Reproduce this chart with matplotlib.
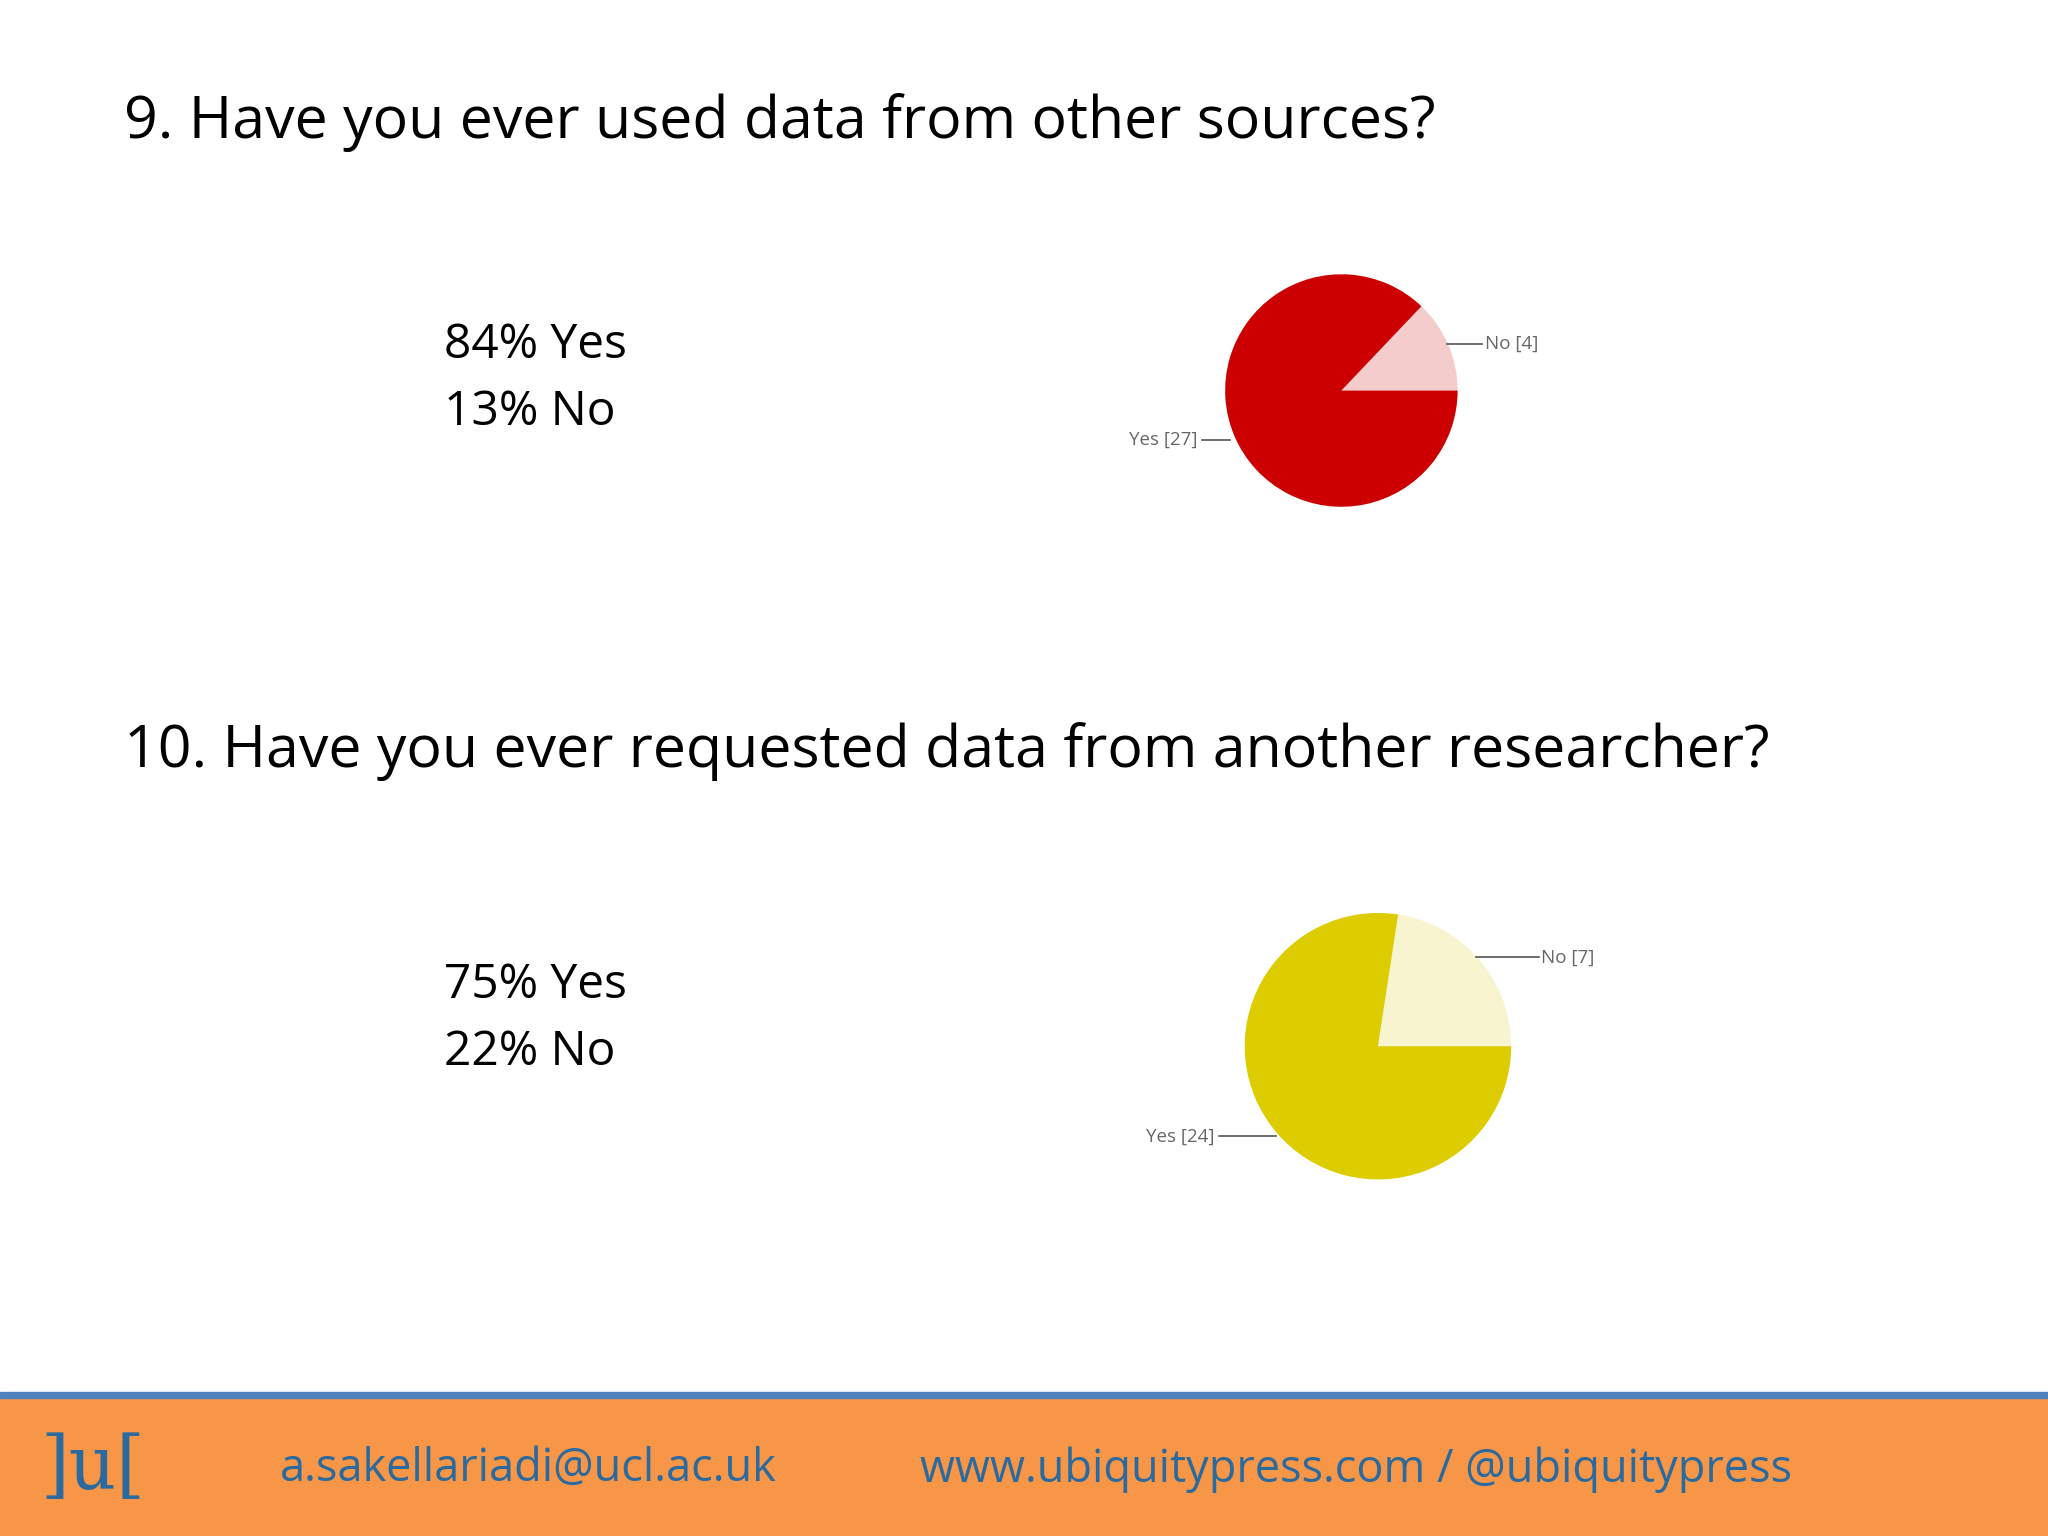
import matplotlib.pyplot as plt
from matplotlib.patches import Rectangle

W, H = 1568, 1176  # layout measured on the reference in these units

q1_title = "9. Have you ever used data from other sources?"
q1_summary = ["84% Yes", "13% No"]
q1_labels = ["No", "Yes"]
q1_counts = [4, 27]
q1_colors = ["#F4CCCC", "#CC0000"]

q2_title = "10. Have you ever requested data from another researcher?"
q2_summary = ["75% Yes", "22% No"]
q2_labels = ["No", "Yes"]
q2_counts = [7, 24]
q2_colors = ["#F7F4CF", "#DCCC00"]

fig = plt.figure(figsize=(20.48, 15.36), dpi=100)
fig.patch.set_facecolor("white")
FONT = ["Open Sans", "DejaVu Sans"]


def fx(x):
    return x / W


def fy(y):
    return 1 - y / H


def draw_pie(cx, cy, r, counts, labels, colors, no_lbl, yes_lbl):
    ax = fig.add_axes([fx(cx - r), fy(cy + r), 2 * r / W, 2 * r / H])
    ax.pie(counts, colors=colors, startangle=0, counterclock=True,
           radius=1, wedgeprops=dict(linewidth=0))
    ax.set_xlim(-1, 1)
    ax.set_ylim(-1, 1)
    ax.set_aspect("auto")
    ax.axis("off")
    # callout labels
    (nx0, nx1, ny) = no_lbl
    fig.add_artist(plt.Line2D([fx(nx0), fx(nx1)], [fy(ny), fy(ny)], color="#555555", lw=1.2))
    fig.text(fx(nx1 + 2), fy(ny), f"{labels[0]} [{counts[0]}]", fontsize=13.5,
             color="#666666", va="center", ha="left", family=FONT)
    (yx0, yx1, yy) = yes_lbl
    fig.add_artist(plt.Line2D([fx(yx0), fx(yx1)], [fy(yy), fy(yy)], color="#555555", lw=1.2))
    fig.text(fx(yx0 - 3), fy(yy), f"{labels[1]} [{counts[1]}]", fontsize=13.5,
             color="#666666", va="center", ha="right", family=FONT)


# question 1
fig.text(fx(95), fy(94), q1_title, fontsize=42.5, va="center", ha="left", family=FONT)
fig.text(fx(340), fy(264), q1_summary[0], fontsize=34.5, va="center", family=FONT)
fig.text(fx(340), fy(316), q1_summary[1], fontsize=34.5, va="center", family=FONT)
draw_pie(1027, 299, 89, q1_counts, q1_labels, q1_colors,
         (1108, 1135, 263), (920, 942, 337))

# question 2
fig.text(fx(95), fy(575), q2_title, fontsize=42.5, va="center", ha="left", family=FONT)
fig.text(fx(340), fy(754), q2_summary[0], fontsize=34.5, va="center", family=FONT)
fig.text(fx(340), fy(806), q2_summary[1], fontsize=34.5, va="center", family=FONT)
draw_pie(1055, 801, 102, q2_counts, q2_labels, q2_colors,
         (1130, 1178, 733), (933, 977, 870))

# footer
fig.add_artist(Rectangle((0, 0), 1, fy(1070), transform=fig.transFigure,
                         color="#F79646", zorder=0))
fig.add_artist(Rectangle((0, fy(1070)), 1, 4 / H, transform=fig.transFigure,
                         color="#4F81BD", zorder=0))
blue = "#2B6A9E"
fig.text(fx(31), fy(1124), "]u[", fontsize=53, color=blue, va="center",
         family="DejaVu Serif")
fig.text(fx(214), fy(1125), "a.sakellariadi@ucl.ac.uk", fontsize=32.5, color=blue,
         va="center", family=FONT)
fig.text(fx(704), fy(1125), "www.ubiquitypress.com / @ubiquitypress", fontsize=32.5,
         color=blue, va="center", family=FONT)

fig.savefig("out.png", dpi=100)
